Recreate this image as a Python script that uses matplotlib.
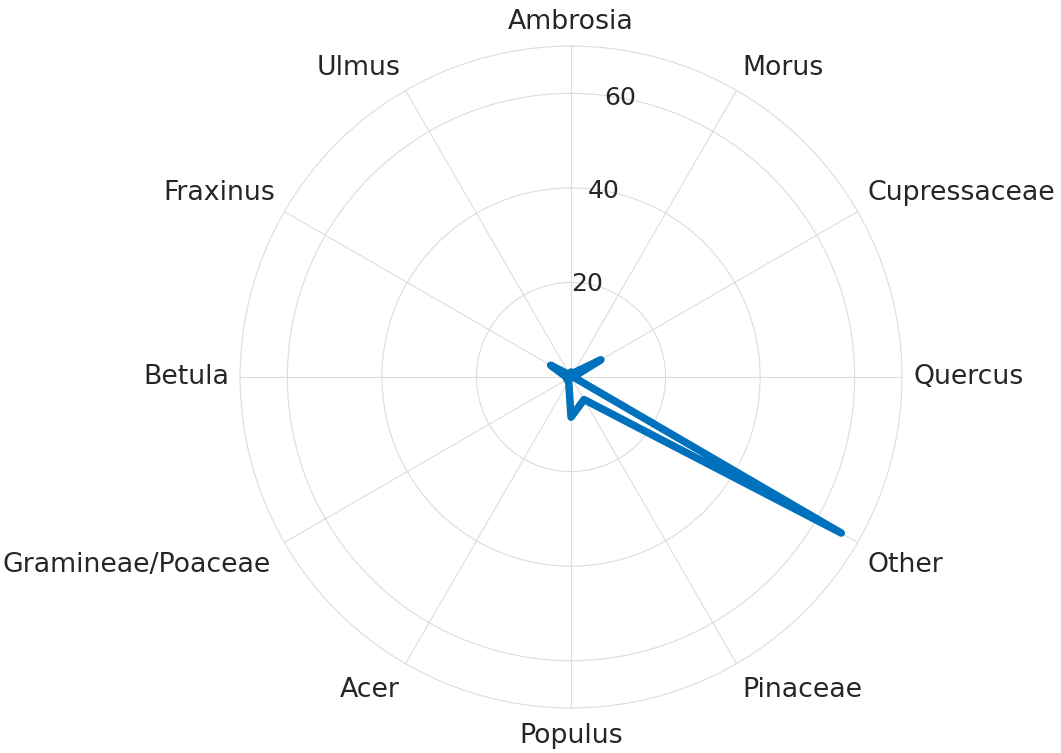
import numpy as np
import matplotlib
matplotlib.use("Agg")
import matplotlib.pyplot as plt

categories = ["Ambrosia", "Morus", "Cupressaceae", "Quercus", "Other", "Pinaceae",
              "Populus", "Acer", "Gramineae/Poaceae", "Betula", "Fraxinus", "Ulmus"]
values = [1.0, 1.0, 7.3, 0.5, 66.0, 5.5, 8.5, 1.0, 1.0, 1.0, 5.0, 0.5]
r_ticks = [20, 40, 60]
r_max = 70

line_color = "#0072BD"
grid_color = "#dcdcdc"
text_color = "#262626"

fig = plt.figure(figsize=(10.61, 7.53), dpi=100)
ax = fig.add_axes([0.2262, 0.0598, 0.624, 0.879], projection="polar")
ax.set_theta_zero_location("N")
ax.set_theta_direction(-1)

n = len(categories)
angles = np.deg2rad(np.arange(n) * 360.0 / n)
theta = np.append(angles, angles[0])
rvals = np.append(values, values[0])

ax.plot(theta, rvals, color=line_color, lw=5.4, solid_capstyle="round",
        solid_joinstyle="round", zorder=3)

ax.set_ylim(0, r_max)
ax.set_yticks(r_ticks)
ax.set_yticklabels([])
ax.set_xticks(angles)
ax.set_xticklabels([])
ax.tick_params(length=0)
ax.grid(True, color=grid_color, lw=0.8)
ax.spines["polar"].set_color(grid_color)
ax.spines["polar"].set_linewidth(0.8)
ax.set_facecolor("white")

# radial tick labels
for rt in r_ticks:
    ax.text(np.deg2rad(10), rt, str(rt), ha="center", va="center",
            fontsize=18, color=text_color, zorder=4)

# category labels
pad = 8
for ang, lab in zip(angles, categories):
    s, c = np.sin(ang), np.cos(ang)
    ha = "left" if s > 0.01 else ("right" if s < -0.01 else "center")
    va = "bottom" if c > 0.01 else ("top" if c < -0.01 else "center")
    dy = pad * c - (3 if va == "top" else 0)
    dx = pad * s - (3 if lab.startswith("Gramineae") else 0)
    ax.annotate(lab, xy=(ang, r_max), xytext=(dx, dy),
                textcoords="offset points", ha=ha, va=va,
                fontsize=19.3, color=text_color, annotation_clip=False)

fig.savefig("out.png", dpi=100, facecolor="white")
